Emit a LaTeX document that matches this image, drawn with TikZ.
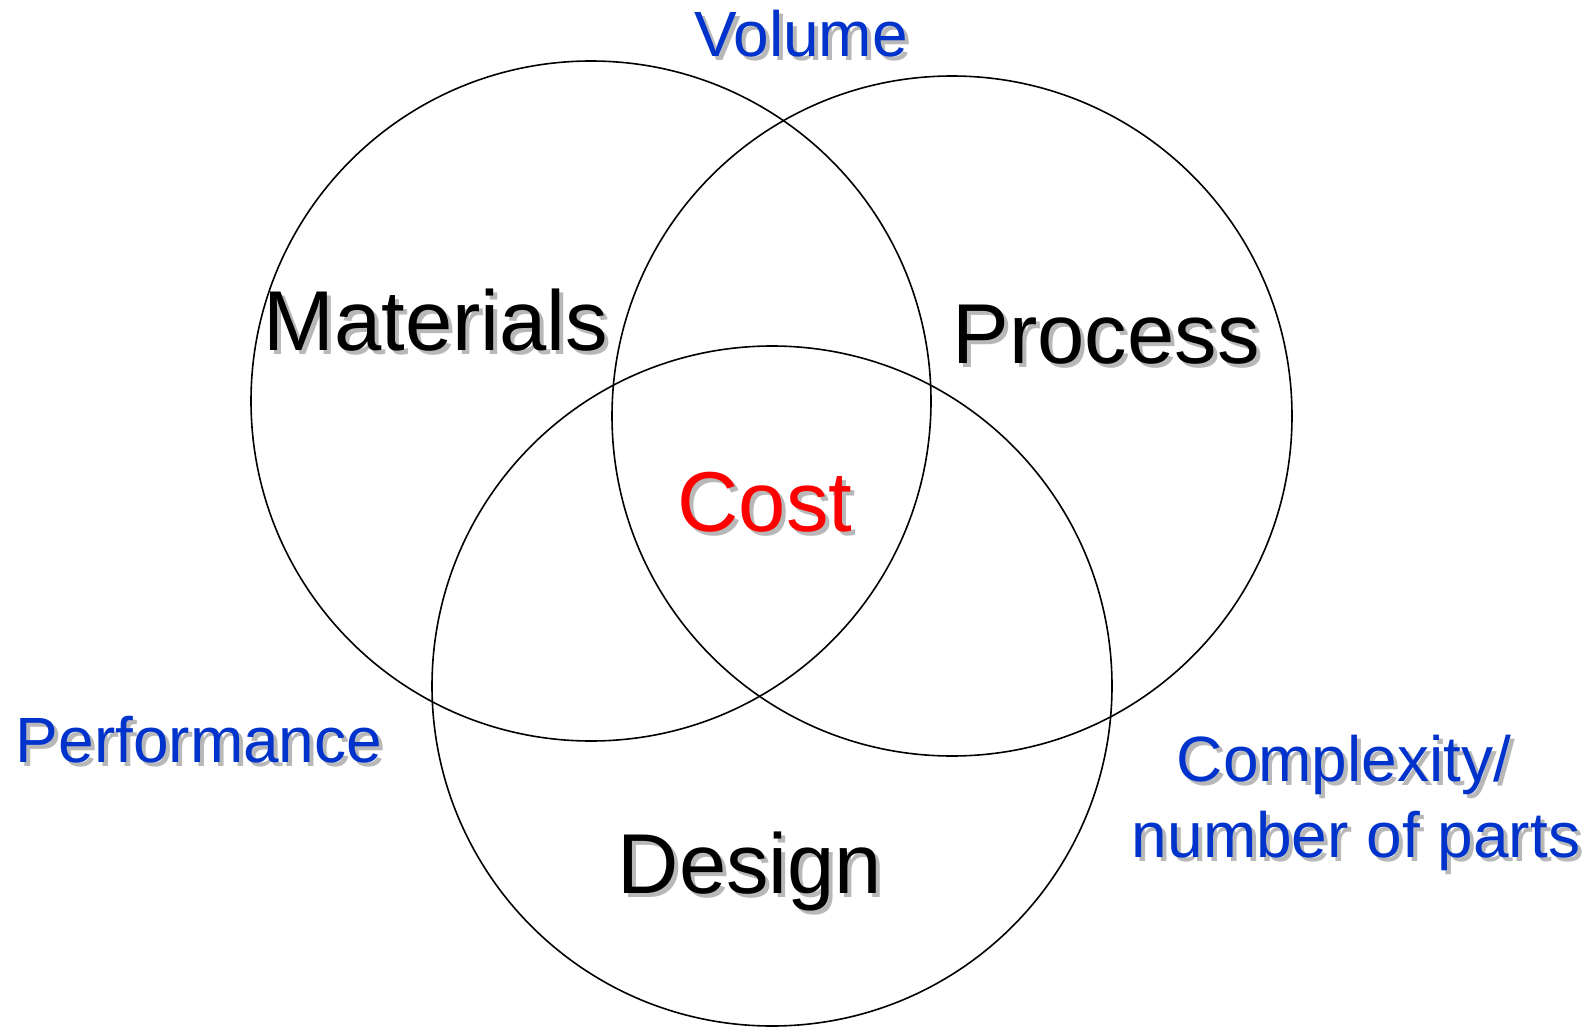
\documentclass[tikz,border=0pt]{standalone}
\usepackage{fontspec}
\setmainfont{Liberation Sans}
\definecolor{lblblue}{HTML}{0033CC}
\definecolor{shadowgray}{HTML}{B8B8B8}
\definecolor{costred}{HTML}{FF0000}
\begin{document}
\begin{tikzpicture}[x=1pt,y=-1pt,
  big/.style={font=\fontsize{85}{85}\selectfont, inner sep=0pt, anchor=base},
  small/.style={font=\fontsize{64}{64}\selectfont, inner sep=0pt, anchor=base, text=lblblue},
  shad/.style={text=shadowgray},
  ring/.style={draw=black, line width=1.6pt, circle, minimum size=680pt, inner sep=0pt}]
\useasboundingbox (0,0) rectangle (1590,1027);
% circles
\node[ring] (cmat) at (591,401) {};
\node[ring] (cproc) at (952,416) {};
\node[ring] (cdes) at (772,686) {};
% big labels with shadows
\node[big,shad] (matS) at (440,354) {Materials};
\node[big] (mat) at (436,350) {Materials};
\node[big,shad] (procS) at (1110,367) {Process};
\node[big] (proc) at (1106,363) {Process};
\node[big,shad] (costS) at (769,535) {Cost};
\node[big,text=costred] (cost) at (765,531) {Cost};
\node[big,shad] (desS) at (754,897) {Design};
\node[big] (des) at (750,893) {Design};
% blue labels with shadows
\node[small,shad] (volS) at (805,61) {Volume};
\node[small] (vol) at (801,57) {Volume};
\node[small,shad] (perfS) at (203,766) {Performance};
\node[small] (perf) at (199,762) {Performance};
\node[small,shad] (cplxS) at (1348,785) {Complexity/};
\node[small] (cplx) at (1344,781) {Complexity/};
\node[small,shad] (nparS) at (1360,861) {number of parts};
\node[small] (npar) at (1356,857) {number of parts};
\end{tikzpicture}
\end{document}
